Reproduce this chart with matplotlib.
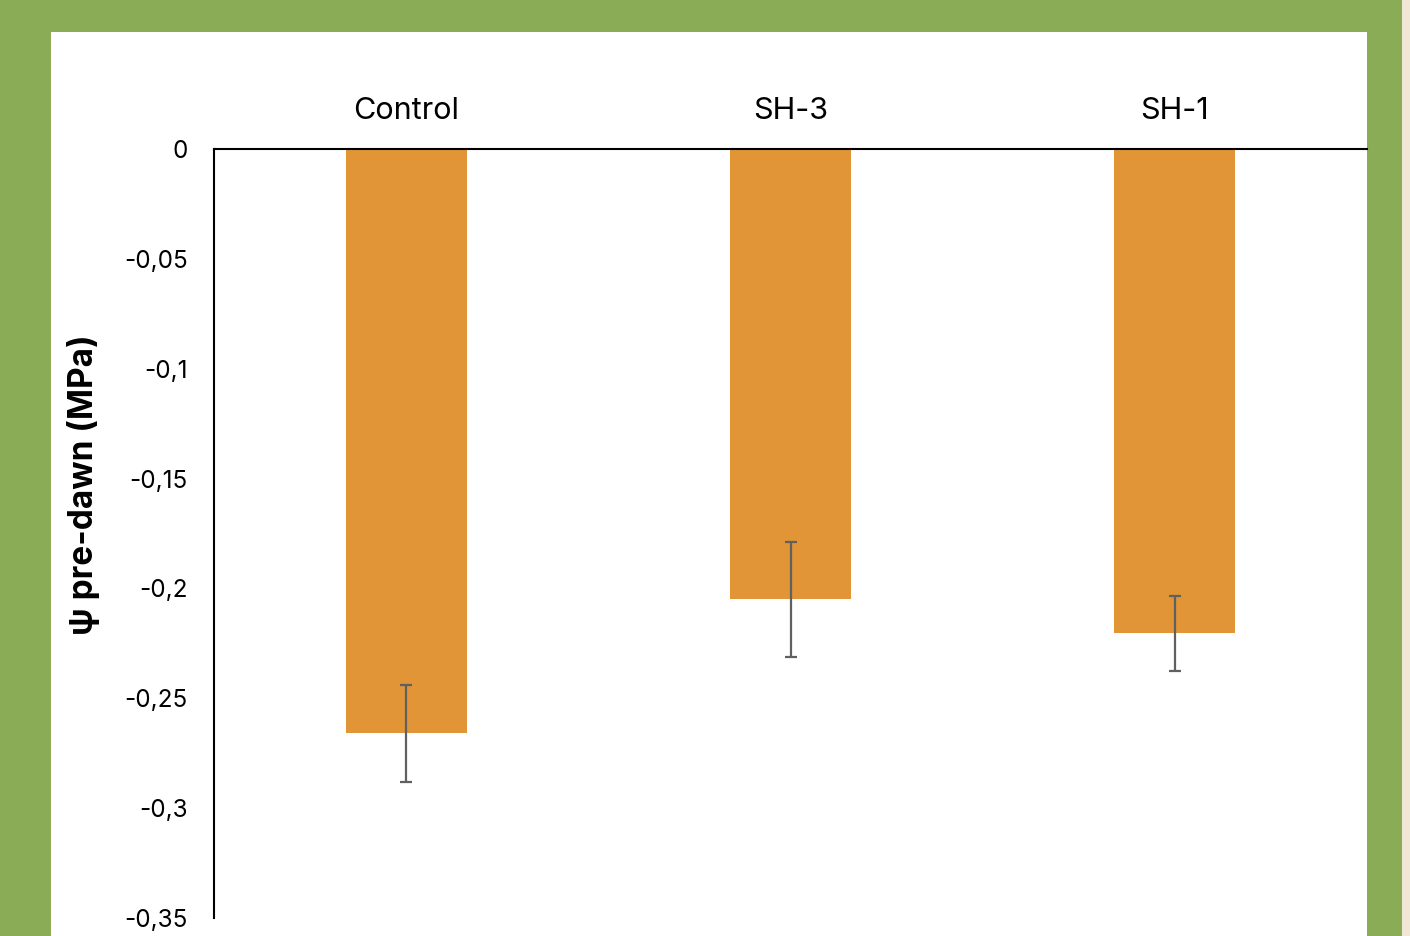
import numpy as np
import matplotlib.pyplot as plt
from matplotlib.patches import Rectangle

# Data
categories = ['Control', 'SH-3', 'SH-1']
values = [-0.266, -0.205, -0.2205]
errors = [0.022, 0.026, 0.017]
yticks = [0, -0.05, -0.1, -0.15, -0.2, -0.25, -0.3, -0.35]
ytick_labels = ['0', '-0,05', '-0,1', '-0,15', '-0,2', '-0,25', '-0,3', '-0,35']

W, H = 1410, 936
plt.rcParams['font.family'] = ['Inter', 'DejaVu Sans']

fig = plt.figure(figsize=(W / 100, H / 100), dpi=100)
fig.patch.set_facecolor('#8aac57')

# White panel and beige strip on the right (behind the axes)
fig.patches.append(Rectangle((51 / W, 0), (1367 - 51) / W, 1 - 32 / H,
                             transform=fig.transFigure, facecolor='white',
                             edgecolor='none', zorder=-10))
fig.patches.append(Rectangle((1402 / W, 0), 8 / W, 1,
                             transform=fig.transFigure, facecolor='#f2e6d4',
                             edgecolor='none', zorder=-10))

ax = fig.add_axes([214 / W, 1 - 918 / H, (1367 - 214) / W, (918 - 149) / H])
ax.set_facecolor('none')

x = np.arange(len(categories))
ax.bar(x, values, width=0.315, color='#e19537', zorder=2)
ax.errorbar(x, values, yerr=errors, fmt='none', ecolor='#606060',
            elinewidth=1.6, capsize=4.5, capthick=1.6, zorder=3)

ax.set_xlim(-0.5, 2.5)
ax.set_ylim(-0.35, 0)
ax.set_yticks(yticks)
ax.set_yticklabels(ytick_labels, fontsize=17.5)
ax.tick_params(axis='y', length=0, pad=19)

ax.xaxis.tick_top()
ax.set_xticks(x)
ax.set_xticklabels(categories, fontsize=22)
ax.tick_params(axis='x', length=0, pad=17.5)

for s in ['right', 'bottom']:
    ax.spines[s].set_visible(False)
for s in ['left', 'top']:
    ax.spines[s].set_linewidth(1.5)
    ax.spines[s].set_color('black')

ax.set_ylabel('\u03c8 pre-dawn (MPa)', fontsize=24, fontweight='bold')
ax.yaxis.set_label_coords(-0.099, 0.564)

fig.savefig('out.png', dpi=100, facecolor=fig.get_facecolor())
